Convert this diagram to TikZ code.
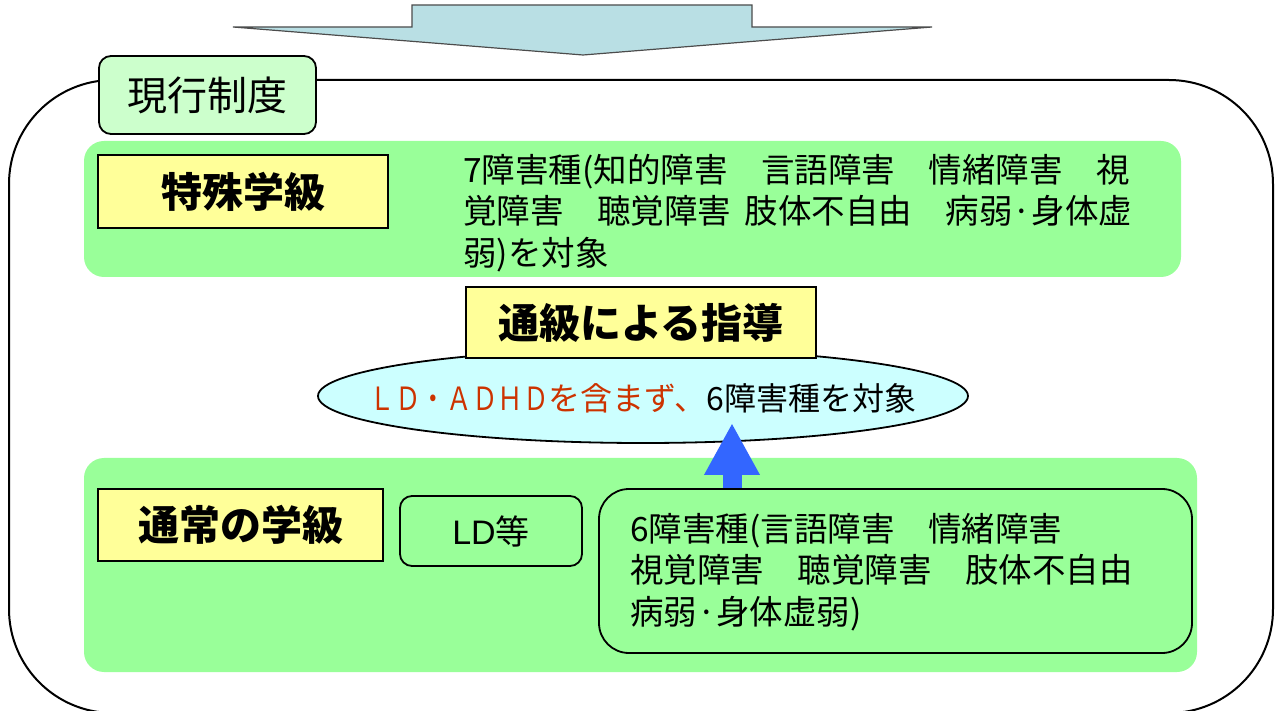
\documentclass[tikz,border=0pt]{standalone}
\usepackage{xcolor}
\usepackage{graphicx}
\usepackage{fontspec}
\usepackage{tikz}
\usetikzlibrary{shapes.geometric}
\usetikzlibrary{arrows.meta}
\newfontfamily\jp{Noto Sans CJK JP}
\newfontfamily\lat{Liberation Sans}
\definecolor{bandGreen}{HTML}{99FF99}
\definecolor{labelGreen}{HTML}{CCFFCC}
\definecolor{boxYellow}{HTML}{FFFF99}
\definecolor{ellipseCyan}{HTML}{CCFFFF}
\definecolor{arrowGrey}{RGB}{185,223,228}
\definecolor{upBlue}{HTML}{3366FF}
\definecolor{noteRed}{HTML}{CC3300}

\begin{document}
\begin{tikzpicture}[x=0.5pt,y=-0.5pt,
	every node/.style={font=\jp},
	yellowBox/.style={draw, line width=0.9pt, fill=boxYellow, inner sep=0pt, font=\jp\bfseries\fontsize{20.5}{24}\selectfont},
	roundBox/.style={draw, line width=0.9pt, fill=bandGreen, rounded corners=6pt, inner sep=0pt},
	band/.style={fill=bandGreen, rounded corners=10pt},
	listText/.style={anchor=west, align=left, inner sep=0pt, font=\jp\fontsize{16.75}{20.75}\selectfont}]
	\useasboundingbox (0,0) rectangle (1281,711);
	
	% Arrow coming from above
	\draw[fill=arrowGrey, draw=black!70, line width=0.6pt] (412,5) -- (752,5) -- (752,27) -- (932,27) -- (583,55) -- (233,27) -- (412,27) -- cycle;
	
	% Outer frame and its label
	\draw[line width=1pt, rounded corners=52pt] (9,80) rectangle (1273,713);
	\node[roundBox, fill=labelGreen, minimum width=108.5pt, minimum height=39pt, font=\jp\fontsize{20}{24}\selectfont] (current) at (207.5,95) {現行制度};
	
	% Special class band
	\fill[band] (84,141) rectangle (1181,277);
	\node[yellowBox, minimum width=145pt, minimum height=36.5pt] (special) at (243,191.5) {特殊学級};
	\node[listText] (specialText) at (463,213) {7障害種(知的障害　言語障害　情緒障害　視\\覚障害　聴覚障害\hspace{0.4em}肢体不自由　病弱·身体虚\\弱)を対象};
	
	% Resource room guidance
	\node[draw, ellipse, fill=ellipseCyan, line width=0.9pt, minimum width=325pt, minimum height=47pt, inner sep=0pt] (scope) at (643,396) {};
	\node[font=\jp\fontsize{16}{20}\selectfont] (scopeText) at (643,398) {\textcolor{noteRed}{\scalebox{0.8}[1]{ＬＤ・ＡＤＨＤ}を含まず、}6障害種を対象};
	\node[yellowBox, minimum width=175pt, minimum height=35.5pt] (resource) at (641,322.5) {通級による指導};
	
	% Regular class band
	\fill[band] (84,458) rectangle (1197,672);
	\node[yellowBox, minimum width=142.5pt, minimum height=36pt] (regular) at (240.5,525) {通常の学級};
	\node[roundBox, minimum width=91pt, minimum height=35pt, font=\jp\fontsize{17}{20}\selectfont] (ld) at (491,531) {{\lat LD}等};
	\node[roundBox, rounded corners=15pt, minimum width=296.5pt, minimum height=82pt] (six) at (895.5,571) {};
	\node[listText] (sixText) at (630,572) {6障害種(言語障害　情緒障害\\視覚障害　聴覚障害　肢体不自由\\病弱·身体虚弱)};
	
	% Arrow up to the guidance
	\coordinate (tip) at (732,423);
	\draw[draw=upBlue, line width=9.5pt, -{Triangle[width=26pt,length=26pt]}] (six.north -| tip) -- (tip);
	
\end{tikzpicture}
\end{document}
